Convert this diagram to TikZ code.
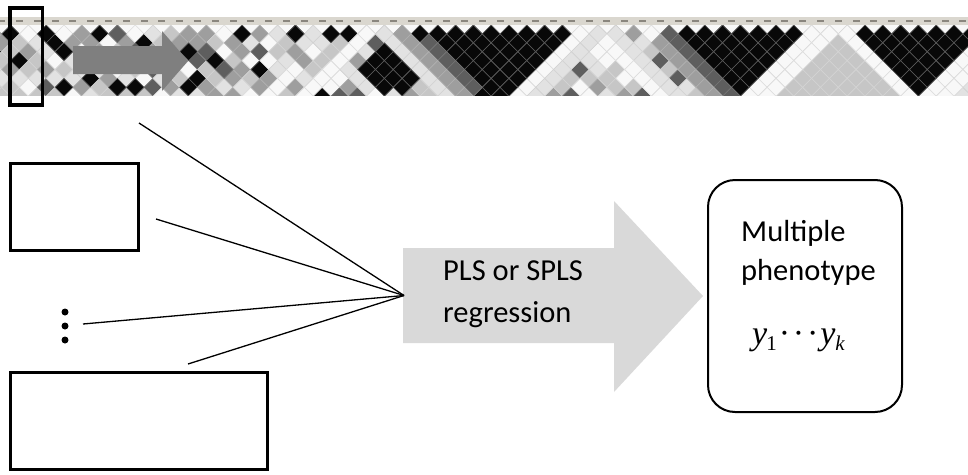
\documentclass[tikz,border=0pt]{standalone}
\usepackage{fontspec}
\setmainfont{Carlito}
\newfontfamily\tms{Liberation Serif}
\definecolor{hmc0}{HTML}{F8F8F8}\definecolor{hmd0}{HTML}{DCDCDC}
\definecolor{hmc1}{HTML}{E2E2E2}\definecolor{hmd1}{HTML}{D2D2D2}
\definecolor{hmc2}{HTML}{C6C6C6}\definecolor{hmd2}{HTML}{D4D4D4}
\definecolor{hmc3}{HTML}{9E9E9E}\definecolor{hmd3}{HTML}{B0B0B0}
\definecolor{hmc4}{HTML}{5E5E5E}\definecolor{hmd4}{HTML}{767676}
\definecolor{hmc5}{HTML}{080808}\definecolor{hmd5}{HTML}{5C5C5C}
\definecolor{hdrbg}{HTML}{DAD7CF}
\definecolor{hdrlbl}{HTML}{8A867E}
\definecolor{ldarrow}{HTML}{7F7F7F}
\definecolor{bigarrow}{HTML}{D9D9D9}
\tikzset{
  hm0/.style={fill=hmc0,draw=hmd0},
  hm1/.style={fill=hmc1,draw=hmd1},
  hm2/.style={fill=hmc2,draw=hmd2},
  hm3/.style={fill=hmc3,draw=hmd3},
  hm4/.style={fill=hmc4,draw=hmd4},
  hm5/.style={fill=hmc5,draw=hmd5},
  inbox/.style={draw=black,line width=3.3,inner sep=0pt,fill=none},
  dotmark/.style={circle,fill=black,inner sep=0pt,minimum size=7},
  conn/.style={draw=black,line width=1.3},
  lbl/.style={inner sep=0pt,anchor=base west,font=\fontsize{30.5}{36}\selectfont},
}
\newcommand\hmd[3]{%
  \pgfmathsetmacro\hmX{1.7+((#1)+(#2))*8.9}%
  \pgfmathsetmacro\hmY{25+((#2)-(#1))*8.9}%
  \path[#3,line width=0.6] (\hmX-8.9,\hmY) -- (\hmX,\hmY-8.9) -- (\hmX+8.9,\hmY) -- (\hmX,\hmY+8.9) -- cycle;}
\begin{document}
\begin{tikzpicture}[x=1pt,y=-1pt]
\useasboundingbox (0,0) rectangle (968,474);
% ---- LD heatmap strip ----
\fill[hdrbg] (0,17) rectangle (968,25);
\foreach \i in {0,...,54}{
  \pgfmathsetmacro\hmX{1.7+\i*17.8}
  \fill[hdrlbl] (\hmX-3.5,19.9) rectangle (\hmX+3.5,22.1);
}
\begin{scope}
\clip (0,25) rectangle (968,95);
\fill[hmc0] (0,25) rectangle (968,95);
\pgfmathsetseed{314}
\foreach \i in {-6,...,56}{
  \foreach \k in {1,...,8}{
    \pgfmathsetmacro\hmr{rnd}
    \pgfmathtruncatemacro\hml{\hmr<0.18?0:(\hmr<0.42?1:(\hmr<0.70?2:(\hmr<0.88?3:(\hmr<0.96?4:5))))}
    \pgfmathtruncatemacro\hmj{\i+\k}
    \hmd{\i}{\hmj}{hm\hml}
  }
}
% cross region between blocks 3 and 4
\foreach \i in {36,...,46}{
  \foreach \j in {48,...,54}{
    \pgfmathtruncatemacro\hmk{\j-\i}
    \ifnum\hmk<9 \hmd{\i}{\j}{hm2}\fi
  }
}
% low-LD markers (white stripes)
\foreach \k in {1,...,8}{
  \pgfmathtruncatemacro\hma{47-\k}\hmd{\hma}{47}{hm0}
  \pgfmathtruncatemacro\hma{47+\k}\hmd{47}{\hma}{hm0}
  \pgfmathtruncatemacro\hma{46-\k}\hmd{\hma}{46}{hm0}
  \pgfmathtruncatemacro\hma{33-\k}\hmd{\hma}{33}{hm0}
  \pgfmathtruncatemacro\hma{33+\k}\hmd{33}{\hma}{hm0}
  \pgfmathtruncatemacro\hma{34-\k}\hmd{\hma}{34}{hm1}
  \pgfmathtruncatemacro\hma{34+\k}\hmd{34}{\hma}{hm1}
  \pgfmathtruncatemacro\hma{21-\k}\hmd{\hma}{21}{hm0}
  \pgfmathtruncatemacro\hma{21+\k}\hmd{21}{\hma}{hm1}
  \pgfmathtruncatemacro\hma{56-\k}\hmd{\hma}{56}{hm0}
  \pgfmathtruncatemacro\hma{57-\k}\hmd{\hma}{57}{hm0}
}
% haplotype blocks (high LD)
\foreach \ba/\bb in {23/32,38/45,48/55}{
  \foreach \i in {\ba,...,\bb}{
    \foreach \k in {1,...,8}{
      \pgfmathtruncatemacro\hmj{\i+\k}
      \ifnum\hmj>\bb\relax\else\hmd{\i}{\hmj}{hm5}\fi
    }
  }
}
% flanking bands of the blocks
\foreach \j in {25,...,30}{\hmd{23}{\j}{hm4}}
\foreach \j in {23,...,30}{\hmd{22}{\j}{hm3}}
\foreach \j in {38,...,45}{\hmd{37}{\j}{hm4}\hmd{36}{\j}{hm3}}
% single strong pairs
\foreach \i/\j/\c in {2/3/hm5,6/7/hm4,2/5/hm5,9/12/hm5,10/13/hm4,10/14/hm5,10/15/hm4,
  13/14/hm5,16/17/hm5,0/7/hm5,3/10/hm5,4/11/hm5,18/19/hm5,
  18/23/hm5,19/23/hm5,20/23/hm5,18/24/hm5,19/24/hm5,20/24/hm5,18/25/hm5,19/25/hm5,20/25/hm5,19/26/hm5,20/26/hm5}{
  \hmd{\i}{\j}{\c}
}
\end{scope}
% arrow over the heatmap
\fill[ldarrow] (73,46) -- (162,46) -- (162,31) -- (188,61) -- (162,91) -- (162,74) -- (73,74) -- cycle;
% selected marker window
\node[draw=black,line width=3.5,inner sep=0pt,minimum width=32.3,minimum height=97.2] (sel) at (26.35,56.4) {};
% ---- lower part ----
\node[inbox,minimum width=128,minimum height=87] (box1) at (74.5,207) {};
\node[inbox,minimum width=257,minimum height=97] (box2) at (139,421) {};
\node[dotmark] (d1) at (65,312) {};
\node[dotmark] (d2) at (65,326) {};
\node[dotmark] (d3) at (65,340) {};
\fill[bigarrow] (403,248) -- (614,248) -- (614,201) -- (703,296) -- (614,392) -- (614,343) -- (403,343) -- cycle;
\coordinate (apex) at (404,295.5);
\coordinate (s1) at (139,123);
\coordinate (s2) at (156,219);
\coordinate (s3) at (83,324);
\coordinate (s4) at (188,364);
\draw[conn] (s1) -- (apex);
\draw[conn] (s2) -- (apex);
\draw[conn] (s3) -- (apex);
\draw[conn] (s4) -- (apex);
\node[lbl] (t1) at (443,280) {PLS or SPLS};
\node[lbl] (t2) at (443,322) {regression};
\node[draw=black,line width=2,rounded corners=27,minimum width=194,minimum height=232,inner sep=0pt] (pheno) at (805,296) {};
\node[lbl] (t3) at (741,241) {Multiple};
\node[lbl] (t4) at (741,280) {phenotype};
\node[inner sep=0pt,anchor=base west] (t5) at (752,344) {\tms\fontsize{34}{34}\selectfont\itshape y\kern-1pt\raisebox{-6pt}{\upshape\fontsize{21}{21}\selectfont 1}\kern2pt{\upshape ·\kern2.8pt·\kern2.8pt·}\kern2pt y\raisebox{-6pt}{\fontsize{21}{21}\selectfont k}};
\end{tikzpicture}
\end{document}
